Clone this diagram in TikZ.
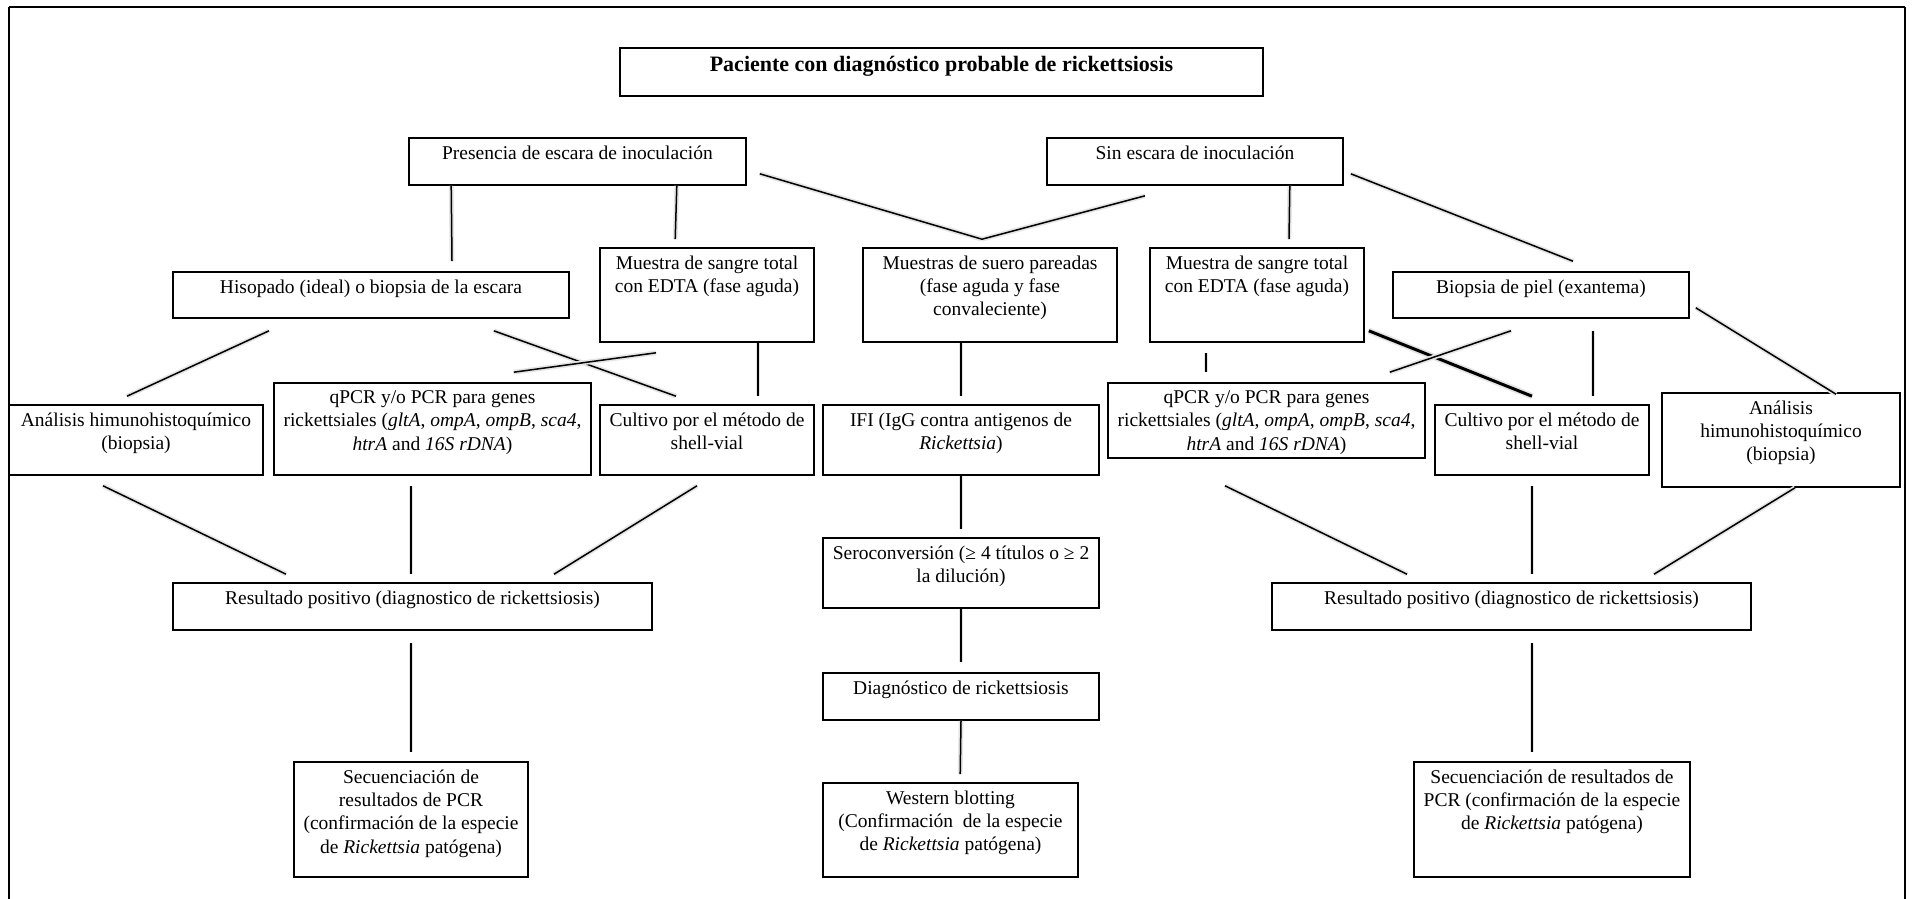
\documentclass[tikz,border=0pt]{standalone}
\usepackage{fontspec}
\setmainfont{Liberation Serif}
\usetikzlibrary{fit}

\tikzset{
  caja/.style={draw, line width=0.8pt, inner sep=0pt},
  texto/.style={anchor=north, align=center, inner sep=4pt, font=\fontsize{9.75}{11.7}\selectfont},
  titulo/.style={texto, inner sep=4.5pt, font=\fontsize{11}{13}\selectfont\bfseries},
  linea/.style={line width=0.75pt, preaction={draw=black!10, line width=2.4pt}},
  lineagruesa/.style={line width=1.5pt, preaction={draw=black!10, line width=3.2pt}}
}

\begin{document}
\begin{tikzpicture}[x=0.5pt, y=-0.5pt]
  \useasboundingbox (0,0) rectangle (1912,899);

  % Marco
  \draw[line width=0.8pt] (9,899) -- (9,7);
  \draw[line width=0.8pt] (1905,899) -- (1905,7);
  \draw[line width=1.3pt] (9,7) -- (1905,7);

  % Nivel 1
  \node[caja, fit={(620,48)(1263,96)}, label={[titulo]north:{Paciente con diagnóstico probable de rickettsiosis}}] (tit) {};

  % Nivel 2
  \node[caja, fit={(409,138)(746,185)}, label={[texto]north:{Presencia de escara de inoculación}}] (pres) {};
  \node[caja, fit={(1047,138)(1343,185)}, label={[texto]north:{Sin escara de inoculación}}] (sin) {};

  % Muestras
  \node[caja, fit={(173,272)(569,318)}, label={[texto]north:{Hisopado (ideal) o biopsia de la escara}}] (hiso) {};
  \node[caja, fit={(600,248)(814,342)}, label={[texto]north:{Muestra de sangre total\\con EDTA (fase aguda)}}] (sangreL) {};
  \node[caja, fit={(863,248)(1117,342)}, label={[texto]north:{Muestras de suero pareadas\\(fase aguda y fase\\convaleciente)}}] (suero) {};
  \node[caja, fit={(1150,248)(1364,342)}, label={[texto]north:{Muestra de sangre total\\con EDTA (fase aguda)}}] (sangreR) {};
  \node[caja, fit={(1393,272)(1689,318)}, label={[texto]north:{Biopsia de piel (exantema)}}] (biop) {};

  % Pruebas
  \node[caja, fit={(9,405)(263,475)}, label={[texto]north:{Análisis himunohistoquímico\\(biopsia)}}] (analL) {};
  \node[caja, fit={(274,383)(591,475)}, label={[texto]north:{qPCR y/o PCR para genes\\rickettsiales (\textit{gltA}, \textit{ompA}, \textit{ompB}, \textit{sca4},\\\textit{htrA} and \textit{16S rDNA})}}] (qpcrL) {};
  \node[caja, fit={(600,405)(814,475)}, label={[texto]north:{Cultivo por el método de\\shell-vial}}] (cultL) {};
  \node[caja, fit={(823,405)(1099,475)}, label={[texto]north:{IFI (IgG contra antigenos de\\\textit{Rickettsia})}}] (ifi) {};
  \node[caja, fit={(1108,383)(1425,458)}, label={[texto]north:{qPCR y/o PCR para genes\\rickettsiales (\textit{gltA}, \textit{ompA}, \textit{ompB}, \textit{sca4},\\\textit{htrA} and \textit{16S rDNA})}}] (qpcrR) {};
  \node[caja, fit={(1435,405)(1649,475)}, label={[texto]north:{Cultivo por el método de\\shell-vial}}] (cultR) {};
  \node[caja, fit={(1662,393)(1900,487)}, label={[texto]north:{Análisis\\himunohistoquímico\\(biopsia)}}] (analR) {};

  % Resultados
  \node[caja, fit={(173,583)(652,630)}, label={[texto]north:{Resultado positivo (diagnostico de rickettsiosis)}}] (resL) {};
  \node[caja, fit={(823,538)(1099,608)}, label={[texto]north:{Seroconversión (≥ 4 títulos o ≥ 2\\la dilución)}}] (sero) {};
  \node[caja, fit={(1272,583)(1751,630)}, label={[texto]north:{Resultado positivo (diagnostico de rickettsiosis)}}] (resR) {};
  \node[caja, fit={(823,673)(1099,720)}, label={[texto]north:{Diagnóstico de rickettsiosis}}] (diag) {};

  % Confirmacion
  \node[caja, fit={(294,762)(528,877)}, label={[texto]north:{Secuenciación de\\resultados de PCR\\(confirmación de la especie\\de \textit{Rickettsia} patógena)}}] (secL) {};
  \node[caja, fit={(823,783)(1078,877)}, label={[texto]north:{Western blotting\\(Confirmación\ \ de la especie\\de \textit{Rickettsia} patógena)}}] (west) {};
  \node[caja, fit={(1414,762)(1690,877)}, label={[texto]north:{Secuenciación de resultados de\\PCR (confirmación de la especie\\de \textit{Rickettsia} patógena)}}] (secR) {};

  % Conectores
  \draw[linea] ([shift={(43,0)}]pres.south west) -- ([shift={(81,-10)}]hiso.north);
  \draw[linea] ([shift={(-70,0)}]pres.south east) -- ([shift={(76,-8)}]sangreL.north west);
  \draw[linea] ([shift={(13,-12)}]pres.south east) -- ([shift={(-8,-8)}]suero.north);
  \draw[linea] ([shift={(-50,10)}]sin.south) -- ([shift={(-8,-8)}]suero.north);
  \draw[linea] ([shift={(-54,0)}]sin.south east) -- ([shift={(32,-8)}]sangreR.north);
  \draw[linea] ([shift={(7,-12)}]sin.south east) -- ([shift={(32,-10)}]biop.north);

  \draw[linea] ([shift={(-102,12)}]hiso.south) -- ([shift={(-9,-8)}]analL.north);
  \draw[linea] ([shift={(-76,12)}]hiso.south east) -- ([shift={(-31,-8)}]cultL.north);
  \draw[linea] ([shift={(-51,10)}]sangreL.south) -- ([shift={(-78,-10)}]qpcrL.north east);
  \draw[linea] ([shift={(51,0)}]sangreL.south) -- ([shift={(51,-8)}]cultL.north);
  \draw[linea] ([shift={(-29,0)}]suero.south) -- ([shift={(0,-8)}]ifi.north);
  \draw[linea] ([shift={(-51,10)}]sangreR.south) -- ([shift={(-60.5,-10)}]qpcrR.north);
  \draw[lineagruesa] ([shift={(4,-12)}]sangreR.south east) -- ([shift={(-10,-8)}]cultR.north);
  \draw[linea] ([shift={(-30,12)}]biop.south) -- ([shift={(-36,-10)}]qpcrR.north east);
  \draw[linea] ([shift={(52,12)}]biop.south) -- ([shift={(51,-8)}]cultR.north);
  \draw[linea] ([shift={(6,-11)}]biop.south east) -- ([shift={(55,2)}]analR.north);

  \draw[linea] (ifi.south) -- ([shift={(0,-8)}]sero.north);
  \draw[linea] (sero.south) -- ([shift={(0,-10)}]diag.north);
  \draw[linea] (diag.south) -- ([shift={(138,-8)}]west.north west);

  \draw[linea] ([shift={(-33,10)}]analL.south) -- ([shift={(-126.5,-8)}]resL.north);
  \draw[linea] ([shift={(-21.5,10)}]qpcrL.south) -- ([shift={(-1.5,-8)}]resL.north);
  \draw[linea] ([shift={(-10,10)}]cultL.south) -- ([shift={(141.5,-8)}]resL.north);
  \draw[linea] ([shift={(-41.5,27)}]qpcrR.south) -- ([shift={(-104.5,-8)}]resR.north);
  \draw[linea] ([shift={(-10,10)}]cultR.south) -- ([shift={(20.5,-8)}]resR.north);
  \draw[linea] ([shift={(14,0)}]analR.south) -- ([shift={(142.5,-8)}]resR.north);

  \draw[linea] ([shift={(-1.5,12)}]resL.south) -- ([shift={(0,-9)}]secL.north);
  \draw[linea] ([shift={(20.5,12)}]resR.south) -- ([shift={(-20,-9)}]secR.north);
\end{tikzpicture}
\end{document}
